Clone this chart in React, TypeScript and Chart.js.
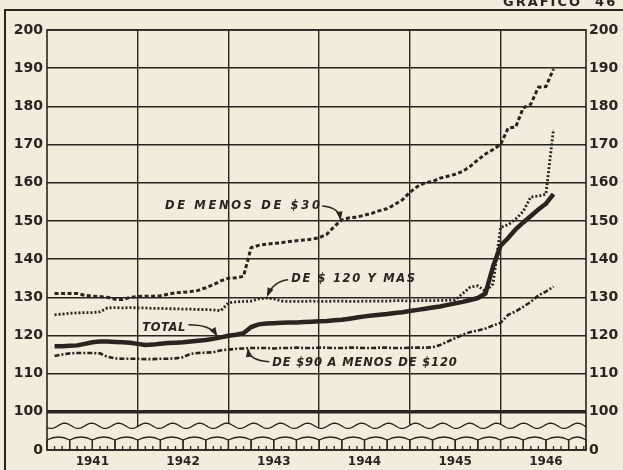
import React, { useEffect, useRef } from "react";
import { Chart, registerables } from "chart.js";
Chart.register(...registerables);

// Monthly index values, Jan 1941 .. Jul 1946 (base = 100)
const YEARS = ["1941", "1942", "1943", "1944", "1945", "1946"];
const Y_TICK_ZERO_LABEL = "0";

const MENOS_DE_30 = [
  131, 131, 131, 131, 130.5, 130.3, 130.2, 130, 129.5, 129.4,
  130, 130.2, 130.3, 130.3, 130.4, 130.8, 131.2, 131.3, 131.5, 131.8,
  132.5, 133.3, 134.3, 135, 135.1, 135.5, 143, 143.6, 143.9, 144.1,
  144.3, 144.6, 144.8, 145, 145.2, 145.6, 146.5, 148.5, 150.3, 150.8,
  151, 151.5, 152, 152.7, 153.2, 154.3, 155.5, 157.5, 159, 160,
  160.3, 161.2, 161.7, 162.2, 163, 164.3, 166, 167.5, 168.7, 170,
  174.3, 174.6, 179.6, 180.6, 185, 185.2, 189.8,
];

const DE_120_Y_MAS = [
  125.4, 125.6, 125.8, 125.9, 126, 126, 126.2, 127.2, 127.3, 127.2,
  127.3, 127.2, 127.2, 127.1, 127.1, 127.0, 127.0, 126.9, 126.9, 126.8,
  126.8, 126.7, 126.5, 128.5, 128.8, 128.9, 129, 129.6, 129.8, 129.6,
  129.0, 128.9, 128.9, 128.9, 129, 128.9, 128.9, 129, 129, 128.9,
  128.9, 129, 129, 129, 129, 129.1, 129.1, 129, 129.1, 129.1,
  129.1, 129.2, 129.2, 129.3, 131, 132.7, 133, 131.5, 133.5, 148.3,
  149, 150.5, 152.5, 156.3, 156.5, 157, 174,
];

const TOTAL = [
  117.2, 117.2, 117.3, 117.4, 117.8, 118.2, 118.4, 118.4, 118.3, 118.2,
  118.1, 117.8, 117.5, 117.6, 117.8, 118, 118.1, 118.2, 118.4, 118.6,
  118.8, 119.1, 119.5, 119.9, 120.2, 120.6, 122.2, 122.9, 123.1, 123.2,
  123.3, 123.4, 123.4, 123.5, 123.6, 123.7, 123.8, 124, 124.1, 124.4,
  124.7, 125, 125.2, 125.4, 125.6, 125.9, 126.1, 126.4, 126.7, 127,
  127.3, 127.6, 128, 128.4, 128.8, 129.3, 129.8, 131, 138, 143.5,
  145.5, 147.8, 149.6, 151.3, 153, 154.5, 157,
];

const DE_90_A_120 = [
  114.6, 115, 115.3, 115.4, 115.4, 115.4, 115.3, 114.4, 114, 113.9,
  113.9, 113.9, 113.8, 113.8, 113.9, 113.9, 114, 114.3, 115.2, 115.4,
  115.5, 115.6, 116.1, 116.3, 116.5, 116.6, 116.7, 116.7, 116.7, 116.6,
  116.7, 116.7, 116.8, 116.7, 116.7, 116.8, 116.8, 116.7, 116.7, 116.8,
  116.8, 116.7, 116.7, 116.8, 116.8, 116.7, 116.7, 116.8, 116.8, 116.8,
  116.9, 117.5, 118.4, 119.3, 120.2, 120.9, 121.3, 121.8, 122.6, 123.3,
  125.4, 126.3, 127.5, 128.8, 130.5, 131.5, 132.8,
];

const INK = "#2a2420";
const PAPER = "#f3ecdc";
const FONT = '"DejaVu Sans", sans-serif';

const toPoints = (arr: number[]) => arr.map((v, i) => ({ x: i + 1, y: v }));

function arrow(ctx: CanvasRenderingContext2D, p0: number[], c: number[], p1: number[]) {
  ctx.beginPath();
  ctx.moveTo(p0[0], p0[1]);
  ctx.quadraticCurveTo(c[0], c[1], p1[0], p1[1]);
  ctx.stroke();
  const ang = Math.atan2(p1[1] - c[1], p1[0] - c[0]);
  const L = 7, W = 3.2;
  ctx.beginPath();
  ctx.moveTo(p1[0] + Math.cos(ang) * 2, p1[1] + Math.sin(ang) * 2);
  ctx.lineTo(p1[0] - Math.cos(ang) * L - Math.sin(ang) * W, p1[1] - Math.sin(ang) * L + Math.cos(ang) * W);
  ctx.lineTo(p1[0] - Math.cos(ang) * L + Math.sin(ang) * W, p1[1] - Math.sin(ang) * L - Math.cos(ang) * W);
  ctx.closePath();
  ctx.fill();
}

const decor = {
  id: "decor",
  beforeDraw(chart: any) {
    const { ctx, width, height } = chart;
    ctx.save();
    ctx.fillStyle = PAPER;
    ctx.fillRect(0, 0, width, height);
    ctx.restore();
  },
  beforeDatasetsDraw(chart: any) {
    const { ctx, chartArea: a, scales } = chart;
    const x = scales.x, y = scales.y;
    const y100 = y.getPixelForValue(100);
    const bottom = a.bottom;
    const waveY = y100 + 14;
    const wave = (px: number) => waveY + 2.6 * Math.sin(((px - a.left) / 27) * 2 * Math.PI + 0.6);
    ctx.save();
    ctx.beginPath();
    ctx.moveTo(a.left, bottom + 1);
    for (let px = a.left; px <= a.right; px += 1) ctx.lineTo(px, wave(px));
    ctx.lineTo(a.right, bottom + 1);
    ctx.closePath();
    ctx.fillStyle = PAPER;
    ctx.fill();
    ctx.strokeStyle = INK;
    ctx.lineWidth = 1.3;
    ctx.beginPath();
    for (let px = a.left; px <= a.right; px += 1) {
      if (px === a.left) ctx.moveTo(px, wave(px));
      else ctx.lineTo(px, wave(px));
    }
    ctx.stroke();
    // ruler band
    ctx.lineWidth = 1.3;
    const top = bottom - 10;
    for (let q = 0; q < 24; q++) {
      const x0 = x.getPixelForValue(q * 3);
      let x1 = x.getPixelForValue(q * 3 + 3);
      if (x0 >= a.right - 1) break;
      x1 = Math.min(x1, a.right);
      ctx.beginPath();
      ctx.moveTo(x0, bottom);
      ctx.lineTo(x0, top);
      ctx.quadraticCurveTo((x0 + x1) / 2, top - 6, x1, top);
      ctx.lineTo(x1, bottom);
      ctx.stroke();
      for (let k = 1; k < 3; k++) {
        const xm = x.getPixelForValue(q * 3 + k);
        if (xm >= a.right) break;
        ctx.beginPath();
        ctx.moveTo(xm, bottom);
        ctx.lineTo(xm, bottom - 4);
        ctx.stroke();
      }
    }
    ctx.beginPath();
    ctx.moveTo(a.left, bottom);
    ctx.lineTo(a.right, bottom);
    ctx.stroke();
    ctx.restore();
  },
  afterDraw(chart: any) {
    const { ctx, chartArea: a, scales } = chart;
    const x = scales.x, y = scales.y;
    const P = (m: number, v: number) => [x.getPixelForValue(m), y.getPixelForValue(v)];
    ctx.save();
    ctx.strokeStyle = INK;
    ctx.fillStyle = INK;
    // plot border
    ctx.lineWidth = 1.6;
    ctx.strokeRect(a.left, a.top, a.right - a.left, a.bottom - a.top);
    // outer frame
    ctx.lineWidth = 2;
    ctx.beginPath();
    ctx.moveTo(5, chart.height);
    ctx.lineTo(5, 10);
    ctx.lineTo(chart.width, 10);
    ctx.stroke();
    // page title (cut off at the top)
    ctx.font = `bold 13px ${FONT}`;
    ctx.textAlign = "left";
    ctx.textBaseline = "alphabetic";
    (ctx as any).letterSpacing = "2px";
    ctx.fillText("GRAFICO  46", 503, 6);

    // annotations
    const label = (text: string, m0: number, m1: number, v: number) => {
      ctx.font = `italic bold 11.5px ${FONT}`;
      (ctx as any).letterSpacing = "0px";
      const w = ctx.measureText(text).width;
      const target = x.getPixelForValue(m1) - x.getPixelForValue(m0);
      const sp = Math.max(0, (target - w) / Math.max(1, text.length - 1));
      (ctx as any).letterSpacing = sp + "px";
      ctx.textBaseline = "middle";
      ctx.fillText(text, x.getPixelForValue(m0), y.getPixelForValue(v));
    };
    label("DE MENOS DE $30", 15.6, 36.1, 153.9);
    label("DE $ 120 Y MAS", 32.3, 48.7, 134.8);
    label("TOTAL", 12.6, 18.3, 122);
    label("DE $90 A MENOS DE $120", 29.8, 54.2, 112.8);
    (ctx as any).letterSpacing = "0px";

    ctx.lineWidth = 1.5;
    arrow(ctx, P(36.4, 153.9), P(38.6, 153.6), P(38.8, 150.6));
    arrow(ctx, P(31.9, 134.6), P(30.0, 134.2), P(29.2, 130.6));
    arrow(ctx, P(18.7, 122.8), P(21.6, 122.8), P(22.4, 120.2));
    arrow(ctx, P(29.4, 113.1), P(26.8, 113.4), P(26.6, 116.2));
    ctx.restore();
  },
};

export default function App() {
  const ref = useRef<HTMLCanvasElement>(null);
  useEffect(() => {
    if (!ref.current) return;
    const yTickCb = (v: any) => (v === 90 ? Y_TICK_ZERO_LABEL : String(v));
    const chart = new Chart(ref.current, {
      type: "line",
      data: {
        datasets: [
          {
            label: "De $90 a menos de $120",
            data: toPoints(DE_90_A_120),
            borderColor: INK,
            borderWidth: 2.6,
            borderDash: [5, 2, 2, 2],
            pointRadius: 0,
          },
          {
            label: "De $120 y más",
            data: toPoints(DE_120_Y_MAS),
            borderColor: INK,
            borderWidth: 2.8,
            borderDash: [2, 2],
            pointRadius: 0,
          },
          {
            label: "De menos de $30",
            data: toPoints(MENOS_DE_30),
            borderColor: INK,
            borderWidth: 3,
            borderDash: [4, 2.5],
            pointRadius: 0,
          },
          {
            label: "Total",
            data: toPoints(TOTAL),
            borderColor: INK,
            borderWidth: 4.5,
            pointRadius: 0,
          },
        ],
      },
      options: {
        responsive: false,
        devicePixelRatio: 1,
        animation: false,
        layout: { padding: { top: 30, left: 0, right: 0, bottom: 0 } },
        plugins: { legend: { display: false }, tooltip: { enabled: false } },
        elements: { line: { tension: 0, borderCapStyle: "butt" } },
        scales: {
          x: {
            type: "linear",
            min: 0,
            max: 71.3,
            afterBuildTicks: (s: any) => {
              s.ticks = [0, 6, 12, 18, 24, 30, 36, 42, 48, 54, 60, 66].map((value) => ({ value }));
            },
            afterFit: (s: any) => {
              s.height = 20;
            },
            border: { display: false },
            grid: {
              drawTicks: false,
              color: (c: any) =>
                c.tick && c.tick.value % 12 === 0 && c.tick.value > 0 ? INK : "rgba(0,0,0,0)",
              lineWidth: 1.4,
            },
            ticks: {
              autoSkip: false,
              maxRotation: 0,
              padding: 5,
              color: INK,
              font: { family: FONT, weight: "bold", size: 12 },
              callback: (v: any) => (v % 12 === 6 ? YEARS[(v - 6) / 12] : ""),
            },
          },
          y: {
            type: "linear",
            position: "left",
            min: 90,
            max: 200,
            afterFit: (s: any) => {
              s.width = 47;
            },
            border: { display: false },
            grid: {
              drawTicks: false,
              color: (c: any) => (c.tick && c.tick.value === 90 ? "rgba(0,0,0,0)" : INK),
              lineWidth: (c: any) => (c.tick && c.tick.value === 100 ? 3.5 : 1.4),
            },
            ticks: {
              stepSize: 10,
              padding: 4,
              color: INK,
              font: { family: FONT, weight: "bold", size: 14 },
              callback: yTickCb,
            },
          },
          y2: {
            type: "linear",
            position: "right",
            min: 90,
            max: 200,
            afterFit: (s: any) => {
              s.width = 37;
            },
            border: { display: false },
            grid: { display: false, drawTicks: false },
            ticks: {
              stepSize: 10,
              padding: 3,
              color: INK,
              font: { family: FONT, weight: "bold", size: 14 },
              callback: yTickCb,
            },
          },
        },
      },
      plugins: [decor],
    } as any);
    return () => chart.destroy();
  }, []);
  return (
    <div style={{ position: "fixed", left: 0, top: 0, width: 623, height: 470, background: PAPER }}>
      <canvas ref={ref} width={623} height={470} style={{ display: "block" }} />
    </div>
  );
}
